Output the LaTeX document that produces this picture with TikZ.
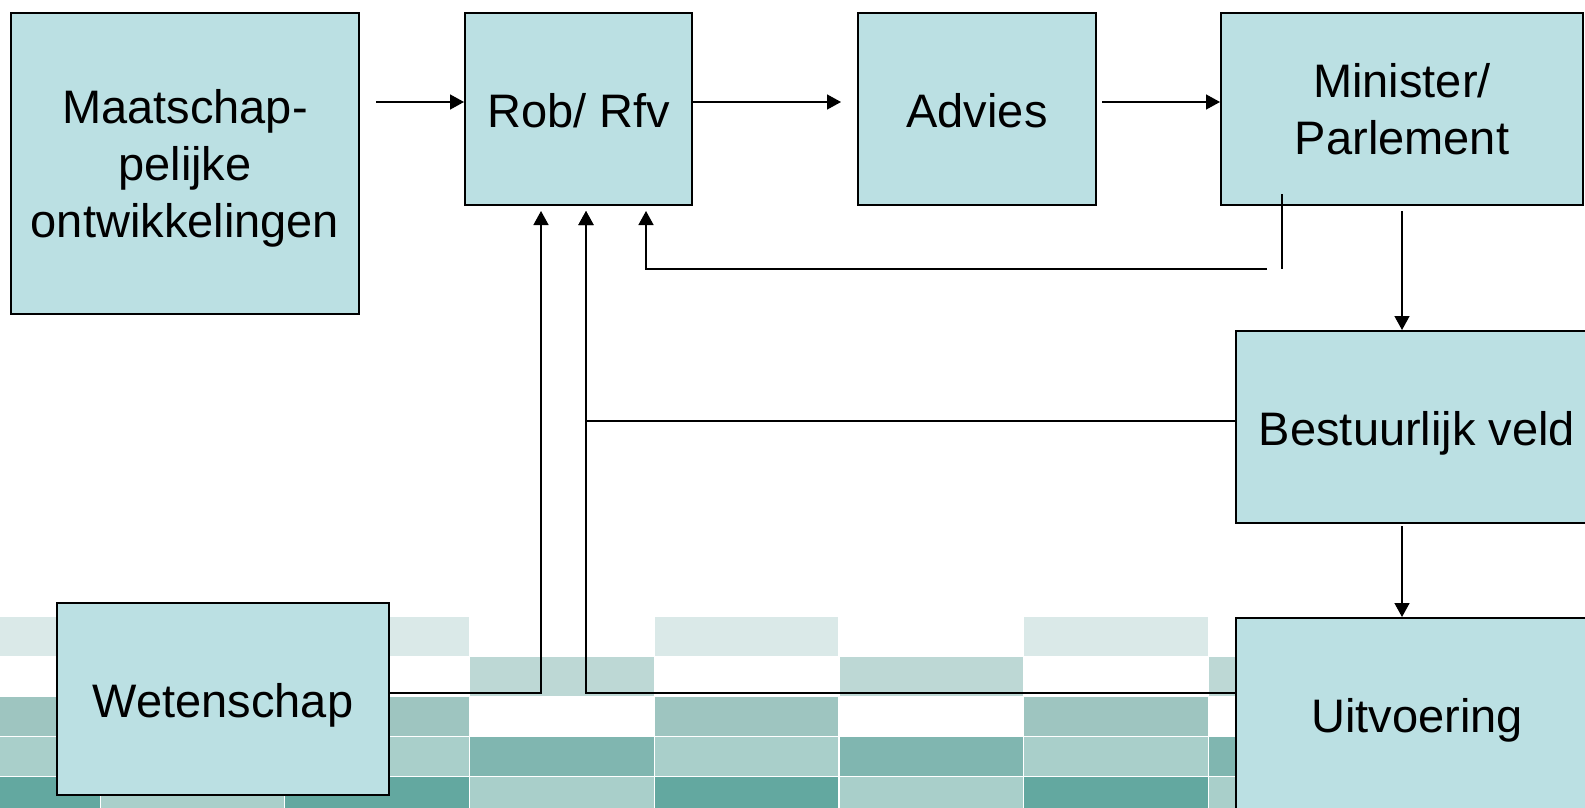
\documentclass[tikz,border=0pt]{standalone}
\usepackage{fontspec}
\setmainfont{Liberation Sans}
\usetikzlibrary{arrows.meta,positioning}

\definecolor{boxfill}{HTML}{BBE0E3}
\definecolor{tileA}{HTML}{DAE9E8}
\definecolor{tileB}{HTML}{BDD8D5}
\definecolor{tileC}{HTML}{9EC5C0}
\definecolor{tileD}{HTML}{A9CFCA}
\definecolor{tileE}{HTML}{80B6B0}
\definecolor{tileF}{HTML}{63A8A0}

\begin{document}
\begin{tikzpicture}[
    x=0.5pt, y=-0.5pt,
    box/.style={
        rectangle,
        draw=black,
        line width=1pt,
        fill=boxfill,
        minimum height=96pt,
        inner sep=0pt,
        align=center,
        font=\fontsize{23.5}{28.4}\selectfont
    },
    oneline/.style={
        box,
        text height=18.5pt,
        text depth=0pt
    },
    arrow/.style={
        -{Triangle[length=7pt,width=7.5pt]},
        line width=0.75pt
    }
]

\useasboundingbox (0,0) rectangle (1585,808);
\fill[white] (0,0) rectangle (1585,808);

% Background tiles
\foreach \r/\ev/\od in {0/tileA/white, 1/white/tileB, 2/tileC/white, 3/tileD/tileE, 4/tileF/tileD} {
    \foreach \c in {0,2,4,6,8}
        \fill[\ev] (-84+184.7*\c, 617+40*\r) rectangle ++(183.5, 39);
    \foreach \c in {1,3,5,7,9}
        \fill[\od] (-84+184.7*\c, 617+40*\r) rectangle ++(183.5, 39);
}

% Top row
\node[box, minimum width=174pt, minimum height=150.5pt, text depth=0pt] (maatschap) at (185,163.5) {Maatschap-\\pelijke\\ontwikkelingen};
\node[oneline, minimum width=113.5pt] (rob) at (578.5,109) {Rob/ Rfv};
\node[oneline, minimum width=119pt] (advies) at (977,109) {Advies};
\node[box, minimum width=181pt] (minister) at (1402,109) {Minister/\\Parlement};

% Right column
\node[oneline, minimum width=181pt] (bestuur) at (1417,427) {Bestuurlijk veld};
\node[oneline, minimum width=181pt] (uitvoering) at (1417,714) {Uitvoering};

% Bottom left
\node[oneline, minimum width=166pt] (wetenschap) at (223,699) {Wetenschap};

% Connections
\draw[arrow, shorten <=8pt] ([yshift=3.5pt]maatschap.east |- rob.west) -- ([yshift=3.5pt]rob.west);
\draw[arrow, shorten >=8pt] ([yshift=3.5pt]rob.east) -- ([yshift=3.5pt]advies.west);
\draw[arrow, shorten <=2.5pt] ([yshift=3.5pt]advies.east) -- ([yshift=3.5pt]minister.west);
\draw[arrow, shorten <=2.5pt] (minister.south) -- (minister.south |- bestuur.north);
\draw[arrow, shorten <=1pt] (minister.south |- bestuur.south) -- (minister.south |- uitvoering.north);

% Feedback to Rob/ Rfv
\coordinate (fbtop) at (1282,194);
\coordinate (fbbot) at (1282,269);
\coordinate (fbend) at (1267,269);
\draw[line width=0.75pt] (fbtop) -- (fbbot);
\draw[arrow, shorten >=2.5pt] (fbend) -| ([xshift=33.75pt]rob.south);
\draw[arrow, shorten >=2.5pt] ([yshift=3pt]bestuur.west) -| ([xshift=3.75pt]rob.south);
\draw[arrow, shorten >=2.5pt] ([yshift=10.5pt]uitvoering.west) -| ([xshift=3.75pt]rob.south);
\draw[arrow, shorten >=2.5pt] ([yshift=3pt]wetenschap.east) -| ([xshift=-18.75pt]rob.south);

\end{tikzpicture}
\end{document}
